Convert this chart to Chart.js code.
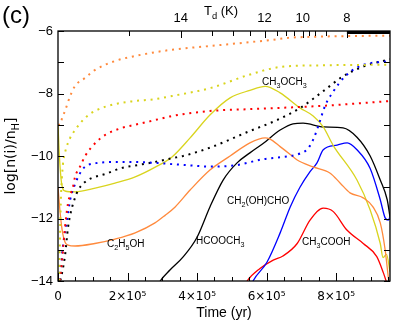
<!DOCTYPE html>
<html>
<head>
<meta charset="utf-8">
<script src="https://cdn.jsdelivr.net/npm/chart.js@4"></script>
<style>
  html, body { margin: 0; padding: 0; background: #fff; }
</style>
</head>
<body>
<canvas id="chart" width="399" height="323"></canvas>
<script>
// time in units of 1e5 yr, abundances as log[n(i)/nH]
const xMax = 9.55;

// dotted curves
const tOrangeDot = [0, 0.06, 0.12, 0.2, 0.35, 0.49, 0.78, 1.06, 1.64, 2.22, 2.79, 3.28, 4.66, 6.1, 6.62, 7.5, 8.5, 9.55];
const vOrangeDot = [-9.0, -9.0, -8.78, -8.56, -8.08, -7.76, -7.5, -7.25, -6.96, -6.8, -6.68, -6.6, -6.45, -6.29, -6.22, -6.18, -6.16, -6.15];
const tYellowDot = [0.03, 0.08, 0.14, 0.2, 0.35, 0.49, 0.78, 1.06, 1.64, 2.22, 2.79, 3.28, 4.4, 5.5, 6.4, 7.5, 9.55];
const vYellowDot = [-14.2, -11.5, -10.3, -9.9, -9.42, -9.17, -8.78, -8.56, -8.34, -8.24, -8.18, -8.08, -7.82, -7.4, -7.15, -7.1, -7.08];
const tRedDot = [0.02, 0.06, 0.12, 0.2, 0.29, 0.43, 0.49, 0.63, 0.78, 1.06, 1.35, 1.84, 2.22, 2.79, 3.28, 4.37, 5.52, 6.39, 7.54, 9.55];
const vRedDot = [-14.2, -13.9, -13.3, -12.3, -11.5, -11.0, -10.67, -10.35, -10.0, -9.6, -9.33, -9.1, -9.0, -8.85, -8.72, -8.56, -8.5, -8.46, -8.4, -8.24];
const tBlueDot = [0.02, 0.08, 0.14, 0.26, 0.35, 0.49, 0.69, 0.86, 1.15, 1.64, 2.22, 2.79, 3.28, 3.8, 4.37, 5.15, 5.9, 6.47, 6.96, 7.2, 7.35, 7.5, 7.68, 7.91, 8.26, 8.69, 9.55];
const vBlueDot = [-14.2, -13.6, -12.9, -12.05, -11.4, -10.9, -10.45, -10.29, -10.22, -10.19, -10.19, -10.22, -10.26, -10.3, -10.34, -10.29, -10.1, -10.03, -9.92, -9.75, -9.45, -9.0, -8.4, -7.95, -7.45, -7.12, -6.96];
const tBlackDot = [0.03, 0.2, 0.29, 0.4, 0.49, 0.58, 0.78, 0.98, 1.35, 1.84, 2.3, 2.79, 3.28, 3.6, 4.4, 5.52, 6.3, 6.97, 7.6, 8.2, 8.75, 9.55];
const vBlackDot = [-14.2, -13.2, -12.27, -11.66, -11.34, -11.09, -10.83, -10.7, -10.58, -10.38, -10.29, -10.19, -10.07, -10.0, -9.72, -9.2, -8.85, -8.46, -7.95, -7.45, -7.15, -6.9];

// solid curves
const tCH3OCH3 = [0, 0.04, 0.1, 0.2, 0.5, 1.07, 1.64, 2.22, 2.81, 3.28, 3.8, 4.37, 4.95, 5.52, 5.96, 6.39, 6.96, 7.34, 7.63, 7.91, 8.6, 8.98, 9.27, 9.35, 9.45, 9.55];
const vCH3OCH3 = [-9.0, -10.0, -10.85, -11.12, -11.15, -11.03, -10.87, -10.67, -10.35, -10.03, -9.42, -8.69, -8.14, -7.9, -7.77, -7.98, -8.46, -8.72, -9.07, -9.65, -10.77, -11.73, -12.8, -13.25, -13.15, -13.7];
const tC2H5OH = [0, 0.06, 0.12, 0.2, 0.29, 0.49, 1.06, 1.64, 2.22, 2.79, 3.08, 3.37, 3.8, 4.37, 4.95, 5.52, 5.96, 6.1, 6.39, 6.68, 6.88, 7.34, 7.83, 8.12, 8.4, 8.78, 9.06, 9.27, 9.41, 9.5, 9.55];
const vC2H5OH = [-11.0, -11.8, -12.37, -12.75, -12.85, -12.88, -12.8, -12.66, -12.46, -12.14, -11.9, -11.63, -11.09, -10.45, -10.0, -9.58, -9.42, -9.46, -9.7, -9.95, -10.13, -10.35, -10.55, -10.87, -11.18, -11.34, -11.63, -12.14, -13.0, -13.87, -14.3];
const tHCOOCH3 = [2.8, 2.94, 3.22, 3.6, 4.0, 4.37, 4.75, 5.15, 5.52, 5.9, 6.39, 6.76, 7.05, 7.63, 8.2, 8.6, 8.98, 9.27, 9.47, 9.55];
const vHCOOCH3 = [-14.3, -14.0, -13.65, -13.23, -12.6, -11.63, -10.77, -10.22, -9.9, -9.6, -9.17, -8.97, -8.95, -9.07, -9.1, -9.4, -10.0, -10.77, -11.4, -11.95];
const tCH2OHCHO = [5.5, 5.61, 6.01, 6.39, 6.68, 6.96, 7.25, 7.45, 7.63, 8.03, 8.32, 8.6, 8.98, 9.27, 9.41, 9.5, 9.55];
const vCH2OHCHO = [-14.3, -14.0, -13.4, -12.46, -11.63, -11.0, -10.5, -10.22, -9.8, -9.65, -9.58, -9.8, -10.4, -11.4, -11.98, -12.05, -11.95];
const tCH3COOH = [5.3, 5.44, 5.81, 6.19, 6.47, 6.88, 7.25, 7.63, 7.92, 8.31, 8.78, 9.17, 9.36, 9.46];
const vCH3COOH = [-14.3, -14.0, -13.6, -13.33, -13.2, -12.8, -12.05, -11.67, -11.78, -12.37, -12.8, -13.22, -13.74, -14.07];

// top axis: dust temperature ticks (time positions) and labels
const tdTickTimes = [2.03, 3.53, 4.42, 5.04, 5.53, 5.94, 6.29, 6.56, 6.80, 7.04, 7.23, 7.38, 7.71, 8.31];
const tdTickLabels = ['', '14', '', '', '', '12', '', '', '', '10', '', '', '', '8'];
const tdDenseStart = 8.31;

// curve labels: text ('_' = subscript), x (1e5 yr), y (baseline, log value)
const labelText = ['C_2H_5OH', 'HCOOCH_3', 'CH_2(OH)CHO', 'CH_3COOH', 'CH_3OCH_3'];
const labelX = [1.41, 3.97, 4.86, 7.02, 5.87];
const labelY = [-12.91, -12.82, -11.54, -12.85, -7.73];

const ORANGE = '#ff8a3d';
const YELLOW = '#d9d41e';
const RED = '#ff0000';
const BLUE = '#0000ff';
const BLACK = '#000000';

function pts(ts, vs) {
    return ts.map((t, i) => ({ x: t, y: vs[i] }));
}

function solid(ts, vs, color) {
    return {
        data: pts(ts, vs), borderColor: color, borderWidth: 1.3,
        pointRadius: 0, fill: false, cubicInterpolationMode: 'monotone'
    };
}

function dotted(ts, vs, color) {
    return {
        data: pts(ts, vs), borderColor: color, borderWidth: 2,
        borderDash: [2, 4.8], pointRadius: 0, fill: false,
        cubicInterpolationMode: 'monotone'
    };
}

// draws text where '_' makes the next char a subscript
function drawRich(ctx, str, x, y, size, align, family) {
    const segs = [];
    for (let i = 0; i < str.length; i++) {
        if (str[i] === '_') { segs.push([str[i + 1], true]); i++; }
        else segs.push([str[i], false]);
    }
    const subSize = size * 0.72;
    let w = 0;
    segs.forEach(s => {
        ctx.font = (s[1] ? subSize : size) + 'px ' + family;
        w += ctx.measureText(s[0]).width;
    });
    let cx = align === 'center' ? x - w / 2 : x;
    ctx.textAlign = 'left';
    ctx.textBaseline = 'alphabetic';
    segs.forEach(s => {
        ctx.font = (s[1] ? subSize : size) + 'px ' + family;
        ctx.fillText(s[0], cx, y + (s[1] ? size * 0.3 : 0));
        cx += ctx.measureText(s[0]).width;
    });
}

const framePlugin = {
    id: 'frame',
    afterDraw(chart) {
        const { ctx, chartArea: a } = chart;
        const sx = chart.scales.x, sx2 = chart.scales.x2, sy = chart.scales.y;
        ctx.save();
        ctx.strokeStyle = '#000';
        ctx.fillStyle = '#000';
        ctx.lineWidth = 1;
        ctx.beginPath();
        // inward ticks
        sx.ticks.forEach(t => {
            const px = Math.round(sx.getPixelForValue(t.value)) + 0.5;
            const major = Math.abs(t.value % 2) < 1e-6;
            ctx.moveTo(px, a.bottom);
            ctx.lineTo(px, a.bottom - (major ? 8 : 4));
        });
        sx2.ticks.forEach((t, i) => {
            const px = Math.round(sx2.getPixelForValue(t.value)) + 0.5;
            ctx.moveTo(px, a.top);
            ctx.lineTo(px, a.top + (tdTickLabels[i] ? 7 : 5));
        });
        sy.ticks.forEach(t => {
            const py = Math.round(sy.getPixelForValue(t.value)) + 0.5;
            ctx.moveTo(a.left, py); ctx.lineTo(a.left + 6, py);
            ctx.moveTo(a.right, py); ctx.lineTo(a.right - 6, py);
        });
        ctx.stroke();
        // dense tick region on the top axis
        const x8 = sx2.getPixelForValue(tdDenseStart);
        ctx.fillRect(x8, a.top, a.right - x8, 3);
        ctx.lineWidth = 1.3;
        ctx.strokeRect(a.left, a.top, a.right - a.left, a.bottom - a.top);

        // curve labels
        labelText.forEach((s, i) => {
            drawRich(ctx, s, sx.getPixelForValue(labelX[i]), sy.getPixelForValue(labelY[i]),
                10, 'left', '"Liberation Sans", Arial, sans-serif');
        });

        // titles
        drawRich(ctx, 'T_d (K)', (a.left + a.right) / 2 - 3, 15, 13, 'center', '"Liberation Sans", Arial, sans-serif');
        ctx.save();
        ctx.translate(15, (a.top + a.bottom) / 2);
        ctx.rotate(-Math.PI / 2);
        drawRich(ctx, 'log[n(i)/n_H]', 0, 0, 14, 'center', '"DejaVu Sans", sans-serif');
        ctx.restore();
        ctx.font = '24px "Liberation Sans", Arial, sans-serif';
        ctx.textAlign = 'left';
        ctx.fillText('(c)', 2, 23);
        ctx.restore();
    }
};

const ctx = document.getElementById('chart').getContext('2d');

new Chart(ctx, {
    type: 'line',
    data: {
        datasets: [
            dotted(tOrangeDot, vOrangeDot, ORANGE),
            dotted(tYellowDot, vYellowDot, YELLOW),
            dotted(tRedDot, vRedDot, RED),
            dotted(tBlueDot, vBlueDot, BLUE),
            dotted(tBlackDot, vBlackDot, BLACK),
            solid(tC2H5OH, vC2H5OH, ORANGE),
            solid(tCH3OCH3, vCH3OCH3, YELLOW),
            solid(tHCOOCH3, vHCOOCH3, BLACK),
            solid(tCH2OHCHO, vCH2OHCHO, BLUE),
            solid(tCH3COOH, vCH3COOH, RED)
        ]
    },
    options: {
        responsive: false,
        animation: false,
        layout: { padding: { left: 0, right: 9, top: 0, bottom: 0 } },
        plugins: {
            legend: { display: false },
            tooltip: { enabled: false }
        },
        scales: {
            x: {
                type: 'linear', position: 'bottom', min: 0, max: xMax,
                afterFit(s) { s.height = 42; },
                grid: { display: false, drawTicks: false },
                border: { display: false },
                title: {
                    display: true, text: 'Time (yr)', color: '#000',
                    font: { family: '"Liberation Sans", Arial, sans-serif', size: 14 },
                    padding: { top: 0, bottom: 1 }
                },
                ticks: {
                    stepSize: 0.5, autoSkip: false, maxRotation: 0, includeBounds: false,
                    padding: 9, color: '#000',
                    font: { family: '"DejaVu Sans", sans-serif', size: 12 },
                    callback: v => {
                        const r = Math.round(v * 2) / 2;
                        if (r === 0) return '0';
                        return r % 2 === 0 ? r + '×10⁵' : '';
                    }
                }
            },
            x2: {
                type: 'linear', position: 'top', min: 0, max: xMax,
                afterFit(s) { s.height = 31; },
                afterBuildTicks(s) { s.ticks = tdTickTimes.map(v => ({ value: v })); },
                grid: { display: false, drawTicks: false },
                border: { display: false },
                ticks: {
                    autoSkip: false, maxRotation: 0, padding: 5, color: '#000',
                    font: { family: '"Liberation Sans", Arial, sans-serif', size: 13 },
                    callback: (v, i) => tdTickLabels[i]
                }
            },
            y: {
                min: -14, max: -6,
                afterFit(s) { s.width = 58; },
                grid: { display: false, drawTicks: false },
                border: { display: false },
                ticks: {
                    stepSize: 1, padding: 5, color: '#000',
                    font: { family: '"Liberation Sans", Arial, sans-serif', size: 13 },
                    callback: v => (v % 2 === 0 ? '\u2212' + Math.abs(v) : '')
                }
            }
        }
    },
    plugins: [framePlugin]
});
</script>
</body>
</html>
